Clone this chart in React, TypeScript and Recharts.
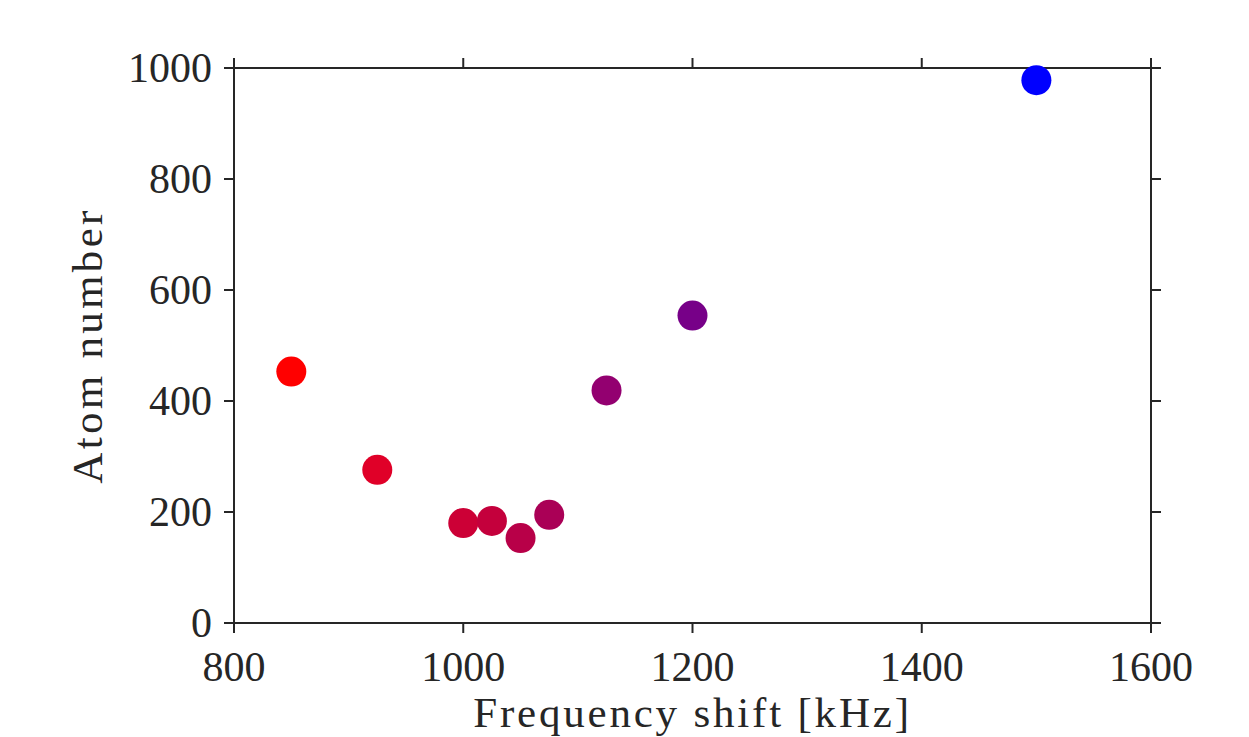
import { ScatterChart, Scatter, XAxis, YAxis, Cell } from 'recharts';

const shifts = [850, 925, 1000, 1025, 1050, 1075, 1125, 1200, 1500];
const atoms = [453, 276, 180, 184, 153, 195, 419, 554, 978];
const pointColors = ['#ff0000', '#e00028', '#cc0036', '#c4003c', '#b80048', '#aa0056', '#930070', '#770088', '#0000ff'];
const xTicks = [800, 1000, 1200, 1400, 1600];
const yTicks = [0, 200, 400, 600, 800, 1000];

const data = shifts.map((x, i) => ({ x, y: atoms[i] }));

const ink = '#262626';
const font = '"Liberation Serif", serif';
const tickFont = 42;
const labelFont = 43;

// ticks point outward on every side, 10px long
const BottomTick = ({ x, y, payload }: any) => (
  <g>
    <line x1={x} x2={x} y1={y} y2={y + 10} stroke={ink} strokeWidth={2} />
    <text x={x} y={y + 58} textAnchor="middle" fill={ink} fontFamily={font} fontSize={tickFont}>
      {payload.value}
    </text>
  </g>
);

const LeftTick = ({ x, y, payload }: any) => (
  <g>
    <line x1={x - 10} x2={x} y1={y} y2={y} stroke={ink} strokeWidth={2} />
    <text x={x - 22} y={y + 14} textAnchor="end" fill={ink} fontFamily={font} fontSize={tickFont}>
      {payload.value}
    </text>
  </g>
);

const TopTick = ({ x, y }: any) => (
  <line x1={x} x2={x} y1={y - 10} y2={y} stroke={ink} strokeWidth={2} />
);

const RightTick = ({ x, y }: any) => (
  <line x1={x} x2={x + 10} y1={y} y2={y} stroke={ink} strokeWidth={2} />
);

const Dot = (props: any) => <circle cx={props.cx} cy={props.cy} r={15} fill={props.fill} />;
const NoDot = () => <g />;

export default function App() {
  return (
    <div style={{ position: 'absolute', left: 0, top: 0, background: '#fff' }}>
      <ScatterChart width={1249} height={737} margin={{ top: 67, right: 97, left: 0, bottom: 0 }}>
        <XAxis
          xAxisId="b"
          type="number"
          dataKey="x"
          domain={[800, 1600]}
          ticks={xTicks}
          orientation="bottom"
          height={114}
          tickSize={0}
          tickMargin={0}
          tickLine={false}
          axisLine={{ stroke: ink, strokeWidth: 2 }}
          tick={<BottomTick />}
          label={{
            content: (p: any) => {
              const vb = p.viewBox;
              return (
                <text x={vb.x + vb.width / 2} y={vb.y + 104} textAnchor="middle" fill={ink} fontFamily={font} fontSize={labelFont} letterSpacing={2.8}>
                  Frequency shift [kHz]
                </text>
              );
            },
          }}
        />
        <XAxis
          xAxisId="t"
          type="number"
          dataKey="x"
          domain={[800, 1600]}
          ticks={xTicks}
          orientation="top"
          height={1}
          tickSize={0}
          tickMargin={0}
          tickLine={false}
          axisLine={{ stroke: ink, strokeWidth: 2 }}
          tick={<TopTick />}
        />
        <YAxis
          yAxisId="l"
          type="number"
          dataKey="y"
          domain={[0, 1000]}
          ticks={yTicks}
          orientation="left"
          width={234}
          tickSize={0}
          tickMargin={0}
          tickLine={false}
          axisLine={{ stroke: ink, strokeWidth: 2 }}
          tick={<LeftTick />}
          label={{
            content: (p: any) => {
              const vb = p.viewBox;
              const cx = vb.x + 87;
              const cy = vb.y + vb.height / 2;
              return (
                <text x={cx} y={cy} transform={`rotate(-90 ${cx} ${cy})`} textAnchor="middle" dominantBaseline="central" fill={ink} fontFamily={font} fontSize={labelFont} letterSpacing={3.3}>
                  Atom number
                </text>
              );
            },
          }}
        />
        <YAxis
          yAxisId="r"
          type="number"
          dataKey="y"
          domain={[0, 1000]}
          ticks={yTicks}
          orientation="right"
          width={1}
          tickSize={0}
          tickMargin={0}
          tickLine={false}
          axisLine={{ stroke: ink, strokeWidth: 2 }}
          tick={<RightTick />}
        />
        {/* invisible copy so the top/right axes get a scale and draw their ticks */}
        <Scatter data={data} xAxisId="t" yAxisId="r" shape={<NoDot />} isAnimationActive={false} />
        <Scatter data={data} xAxisId="b" yAxisId="l" shape={<Dot />} isAnimationActive={false}>
          {data.map((_, i) => (
            <Cell key={i} fill={pointColors[i]} />
          ))}
        </Scatter>
      </ScatterChart>
    </div>
  );
}
